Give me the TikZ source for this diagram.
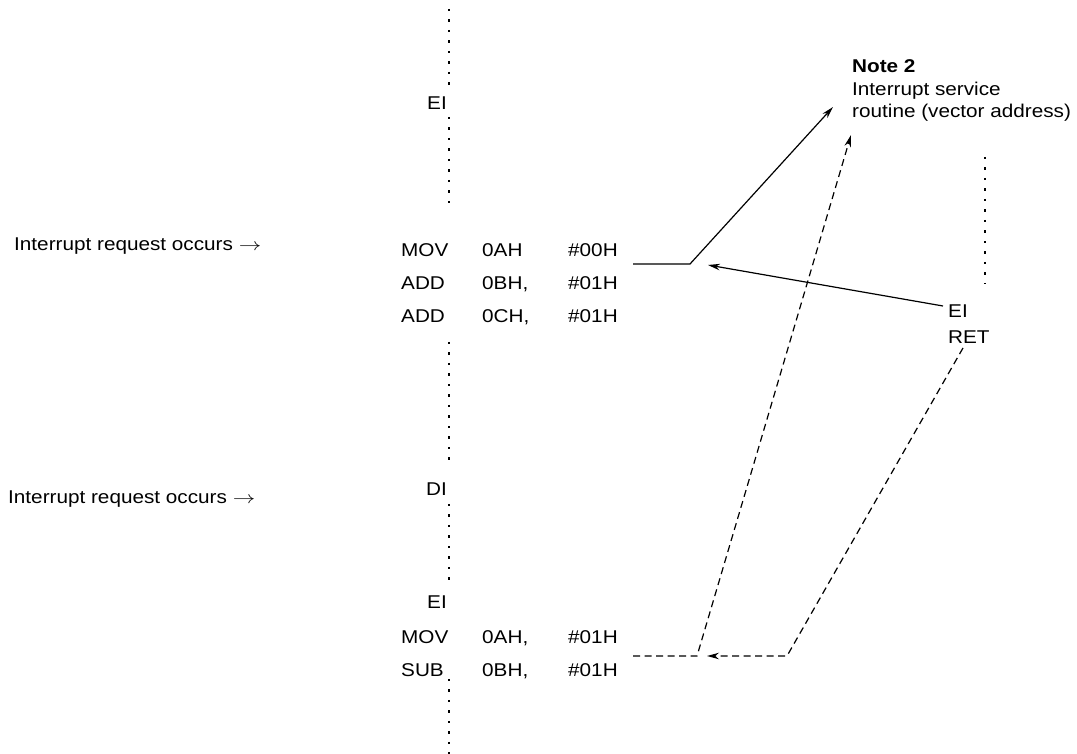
\documentclass[tikz,border=0pt]{standalone}
\usepackage{fontspec}
\setmainfont[FakeStretch=1.12]{Liberation Sans}
\usepackage{graphicx}
\usetikzlibrary{arrows.meta}
\newcommand{\rarr}{\scalebox{1.3}[1]{$\rightarrow$}}
\begin{document}
\begin{tikzpicture}[x=1pt,y=-1pt,
  font=\fontsize{18.5}{21}\selectfont,
  txt/.style={inner sep=0pt, anchor=base west},
  txr/.style={inner sep=0pt, anchor=base east},
  dotcol/.style={line width=2.5pt, dash pattern=on 2.5pt off 8pt},
  solidarrow/.style={line width=1.2pt, -{Stealth[length=12pt,width=6.5pt]}},
  dasharrow/.style={line width=1.2pt, dash pattern=on 7pt off 4.5pt, -{Stealth[length=12pt,width=6.5pt]}}]
\useasboundingbox (0,0) rectangle (1077,754);

% dotted columns
\draw[dotcol] (449,8.8) -- (449,84.7);
\draw[dotcol] (449,116.8) -- (449,203.2);
\draw[dotcol] (449,341.8) -- (449,459.7);
\draw[dotcol] (449,503.8) -- (449,579.7);
\draw[dotcol] (449,678.8) -- (449,753.5);
\draw[dotcol] (985,156.8) -- (985,284.2);

% left labels
\node[txt] (irq1) at (14,251) {Interrupt request occurs \rarr};
\node[txt] (irq2) at (8,503) {Interrupt request occurs \rarr};

% program listing
\node[txr] (ei1) at (447,110) {EI};
\node[txt] (mov1) at (401,257) {MOV};
\node[txt] (op1) at (482,257) {0AH};
\node[txt] (im1) at (568,257) {\#00H};
\node[txt] (add1) at (401,290) {ADD};
\node[txt] (op2) at (482,290) {0BH,};
\node[txt] (im2) at (568,290) {\#01H};
\node[txt] (add2) at (401,323) {ADD};
\node[txt] (op3) at (482,323) {0CH,};
\node[txt] (im3) at (568,323) {\#01H};
\node[txr] (di) at (447,495) {DI};
\node[txr] (ei2) at (447,608) {EI};
\node[txt] (mov2) at (401,643) {MOV};
\node[txt] (op4) at (482,643) {0AH,};
\node[txt] (im4) at (568,643) {\#01H};
\node[txt] (sub) at (401,676) {SUB};
\node[txt] (op5) at (482,676) {0BH,};
\node[txt] (im5) at (568,676) {\#01H};

% service routine
\node[txt] (note) at (852,73) {\bfseries Note 2};
\node[txt] (isr1) at (852,96) {Interrupt service};
\node[txt] (isr2) at (852,118) {routine (vector address)};
\node[txt] (ei3) at (948,318) {EI};
\node[txt] (ret) at (948,343) {RET};

% connectors
\coordinate (s1) at (633,264);
\coordinate (b1) at (690,264);
\coordinate (t1) at (833,107);
\draw[solidarrow] (s1) -- (b1) -- (t1);
\coordinate (r1) at (943,306);
\coordinate (rt1) at (708,265);
\draw[solidarrow] (r1) -- (rt1);

\coordinate (s2) at (633,656);
\coordinate (b2) at (697,656);
\coordinate (t2) at (851,135);
\draw[dasharrow] (s2) -- (b2) -- (t2);
\coordinate (r2) at (963,348);
\coordinate (b3) at (787,656);
\coordinate (rt2) at (707,656);
\draw[dasharrow] (r2) -- (b3) -- (rt2);
\end{tikzpicture}
\end{document}
